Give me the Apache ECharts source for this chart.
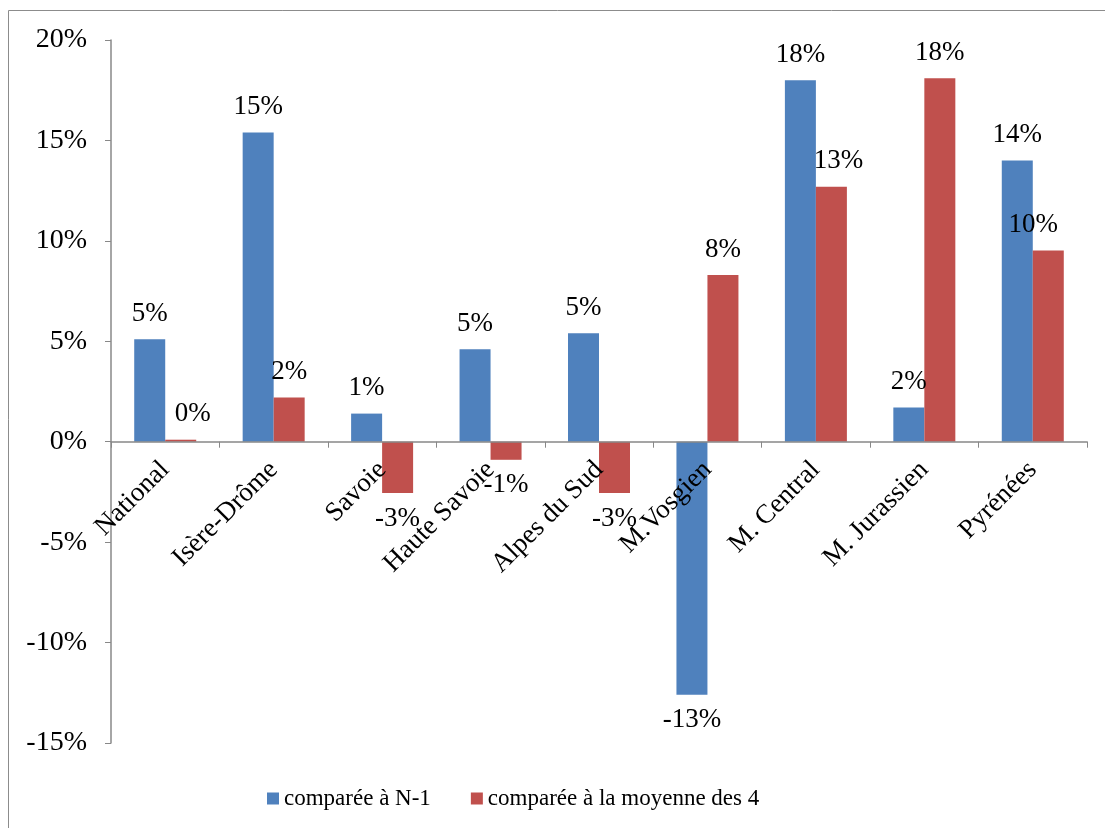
<!DOCTYPE html>
<html><head><meta charset="utf-8">
<script src="https://cdn.jsdelivr.net/npm/echarts@6/dist/echarts.min.js"></script>
<style>html,body{margin:0;padding:0;background:#fff}#c{width:1105px;height:828px}</style>
</head><body><div id="c"></div>
<script>
const categories = ['National','Isère-Drôme','Savoie','Haute Savoie','Alpes du Sud','M.Vosgien','M. Central','M. Jurassien','Pyrénées'];
const seriesNames = ['comparée à N-1','comparée à la moyenne des 4'];
const valuesN1 = [5.1, 15.4, 1.4, 4.6, 5.4, -12.6, 18.0, 1.7, 14.0];
const valuesMoy = [0.1, 2.2, -2.55, -0.9, -2.55, 8.3, 12.7, 18.1, 9.52];
const yTicks = [-15, -10, -5, 0, 5, 10, 15, 20];

// label placement tweaks (style only)
const moyLabelShift = [12, 0, 0, 0, 0, 0, 7, 0, -15];

const FONT = 'Liberation Serif';
const GRID_TOP = 40, GRID_BOTTOM = 85, H = 828;
const plotH = H - GRID_TOP - GRID_BOTTOM;
const yMin = yTicks[0], yMax = yTicks[yTicks.length - 1];
const zeroFromBottom = plotH * (0 - yMin) / (yMax - yMin);

function mkData(arr, shifts){
  return arr.map((v, i) => ({value: v, label: {position: v >= 0 ? 'top' : 'bottom', offset: [shifts ? shifts[i] : 0, 0]}}));
}
const chart = echarts.init(document.getElementById('c'));
chart.setOption({
  animation: false,
  textStyle: {fontFamily: FONT},
  graphic: [{type:'rect', shape:{x:8.5,y:10.5,width:1110,height:830}, style:{fill:'none',stroke:'#8c8c8c',lineWidth:1}, silent:true}],
  grid: {left: 111, right: 18, top: GRID_TOP, bottom: GRID_BOTTOM, containLabel: false},
  legend: {
    bottom: 13, left: 262, itemWidth: 12, itemHeight: 12, itemGap: 40,
    icon: 'rect',
    textStyle: {fontFamily: FONT, fontSize: 23, color: '#000'},
    data: seriesNames
  },
  xAxis: {
    type: 'category', data: categories, position: 'bottom', offset: -zeroFromBottom, z: 10,
    axisLine: {onZero: false, lineStyle: {color: '#888', width: 1.5}},
    axisTick: {show: true, length: 6, inside: false, lineStyle: {color: '#888'}},
    axisLabel: {rotate: 45, interval: 0, margin: 24, fontFamily: FONT, fontSize: 27, color: '#000'}
  },
  yAxis: {
    type: 'value', min: yMin, max: yMax, interval: 5,
    splitLine: {show: false},
    axisLine: {show: true, lineStyle: {color: '#888', width: 1.5}},
    axisTick: {show: true, length: 6, lineStyle: {color: '#888'}},
    axisLabel: {margin: 24, fontFamily: FONT, fontSize: 28, color: '#000', formatter: v => v + '%'}
  },
  series: [
    {name: seriesNames[0], type: 'bar', data: mkData(valuesN1), barWidth: 31, barGap: '0%',
     itemStyle: {color: '#4F81BD'},
     label: {show: true, distance: 12, fontFamily: FONT, fontSize: 27, color: '#000', formatter: p => Math.round(p.value) + '%'}},
    {name: seriesNames[1], type: 'bar', data: mkData(valuesMoy, moyLabelShift), barWidth: 31,
     itemStyle: {color: '#C0504D'},
     label: {show: true, distance: 12, fontFamily: FONT, fontSize: 27, color: '#000', formatter: p => Math.round(p.value) + '%'}}
  ]
});
</script></body></html>
